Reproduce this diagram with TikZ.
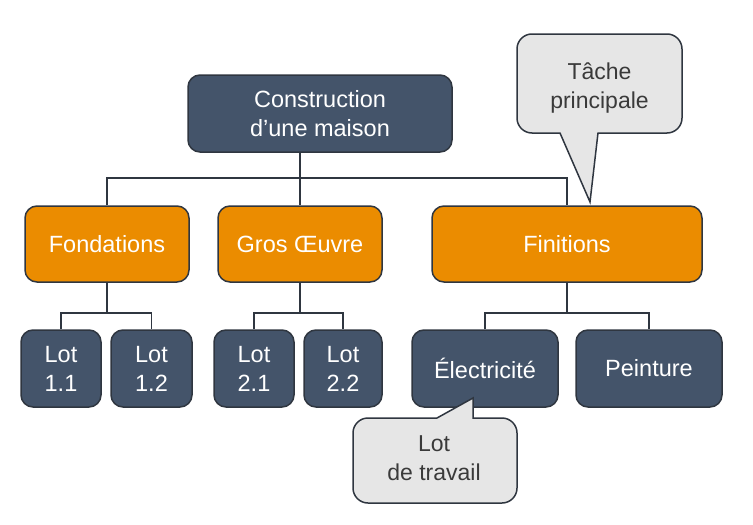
\documentclass[tikz,border=0pt]{standalone}
\usepackage{fontspec}
\setmainfont{Liberation Sans}
\definecolor{ardoise}{HTML}{44546A}
\definecolor{orangef}{HTML}{EB8C00}
\definecolor{bord}{HTML}{2F3640}
\definecolor{grisbulle}{HTML}{E6E6E6}
\definecolor{texte}{HTML}{3A3A3A}

\begin{document}
\begin{tikzpicture}[x=1pt,y=-1pt,
  boite/.style={draw=bord,line width=1.5pt,rounded corners=12pt,text=white,align=center,font=\fontsize{23.5}{29}\selectfont,inner sep=0pt},
  tache/.style={boite,fill=orangef,minimum height=76pt},
  lot/.style={boite,fill=ardoise,minimum height=77pt},
  bulle/.style={draw=bord,line width=1.5pt,fill=grisbulle},
  bulletexte/.style={text=texte,align=center,font=\fontsize{23}{29}\selectfont,inner sep=0pt},
  lien/.style={draw=bord,line width=1.5pt}]
\useasboundingbox (0,0) rectangle (753,525);

\node[lot,minimum width=264pt] (racine) at (320,113.5) {Construction\\d’une maison};
\node[tache,minimum width=164pt] (fond) at (107,244) {Fondations};
\node[tache,minimum width=164pt] (gros) at (300,244) {Gros Œuvre};
\node[tache,minimum width=270pt] (fini) at (567,244) {Finitions};
\node[lot,minimum width=80pt] (lot11) at (61,368.5) {Lot\\1.1};
\node[lot,minimum width=81pt] (lot12) at (151.5,368.5) {Lot\\1.2};
\node[lot,minimum width=80pt] (lot21) at (254,368.5) {Lot\\2.1};
\node[lot,minimum width=78pt] (lot22) at (343,368.5) {Lot\\2.2};
\node[lot,minimum width=146pt] (elec) at (485,368.5) {Électricité};
\node[lot,minimum width=146pt] (peint) at (649,368.5) {Peinture};

\coordinate (n0) at (300,178);
\draw[lien] (racine.south -| gros.north) -- (gros.north);
\draw[lien] (fond.north) |- (n0) -| (fini.north);
\coordinate (n1) at (107,313);
\draw[lien] (fond.south) -- (n1);
\draw[lien] (lot11.north) |- (n1) -| (lot12.north);
\coordinate (n2) at (300,313);
\draw[lien] (gros.south) -- (n2);
\draw[lien] (lot21.north) |- (n2) -| (lot22.north);
\coordinate (n3) at (567,313);
\draw[lien] (fini.south) -- (n3);
\draw[lien] (elec.north) |- (n3) -| (peint.north);

\draw[bulle] (600,34) [rounded corners=15pt] -- (517,34) -- (517,133) [sharp corners] -- (560,133) -- (590,202) -- (598,133) [rounded corners=15pt] -- (682,133) -- (682,34) -- cycle;
\node[bulletexte] (principale) at (599.5,88) {Tâche\\principale};

\draw[bulle] (435,503) [rounded corners=15pt] -- (353,503) -- (353,418) [sharp corners] -- (437,418) -- (473,398) -- (473,418) [rounded corners=15pt] -- (517,418) -- (517,503) -- cycle;
\node[bulletexte] (travail) at (434,458) {Lot\\de travail};
\end{tikzpicture}
\end{document}
